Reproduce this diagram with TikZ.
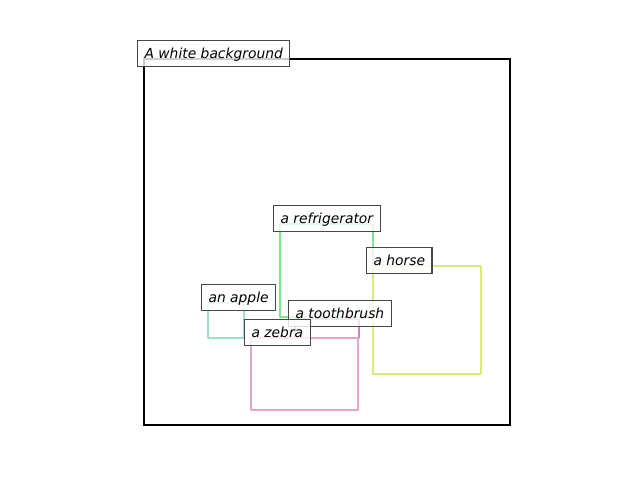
\documentclass[tikz,border=0pt]{standalone}
\usepackage{fontspec}
\setsansfont{DejaVu Sans}
\usetikzlibrary{positioning}
\definecolor{fridgecol}{HTML}{7AE88A}
\definecolor{horsecol}{HTML}{DAE97C}
\definecolor{applecol}{HTML}{A2DDC8}
\definecolor{brushcol}{HTML}{E07AD0}
\definecolor{zebracol}{HTML}{DFA8CA}
\tikzset{objbox/.style={line width=2pt,line join=round},
  lbl/.style={draw=black!72,fill=white,fill opacity=0.8,text opacity=1,line width=0.8pt,
    anchor=base west,inner xsep=5pt,inner ysep=0pt,text height=13.6pt,text depth=5.6pt,
    font=\sffamily\itshape\fontsize{10}{12}\selectfont,xshift=-5pt}}

\begin{document}
\begin{tikzpicture}[x=0.01in,y=-0.01in]
  \useasboundingbox (0,0) rectangle (640,480);

  % frame
  \coordinate (bg) at (144,59);
  \draw[line width=1.6pt] (bg) rectangle (510,425);

  % object boxes
  \foreach \n/\x/\y/\xx/\yy/\c in {fridge/280/224/373/317/fridgecol, horse/373/266/481/374/horsecol,
      apple/208/303/244/338/applecol, brush/295/319/359/338/brushcol, zebra/251/338/358/410/zebracol}
  {\coordinate (\n) at (\x,\y);
    \draw[objbox,\c] (\n) rectangle (\xx,\yy);}

  % labels
  \node (l-bg) [lbl] at (bg) {A white background};
  \node (l-fridge) [lbl] at (fridge) {a refrigerator};
  \node (l-horse) [lbl] at (horse) {a horse};
  \node (l-apple) [lbl] at (apple) {an apple};
  \node (l-brush) [lbl] at (brush) {a toothbrush};
  \node (l-zebra) [lbl] at (zebra) {a zebra};

\end{tikzpicture}
\end{document}
